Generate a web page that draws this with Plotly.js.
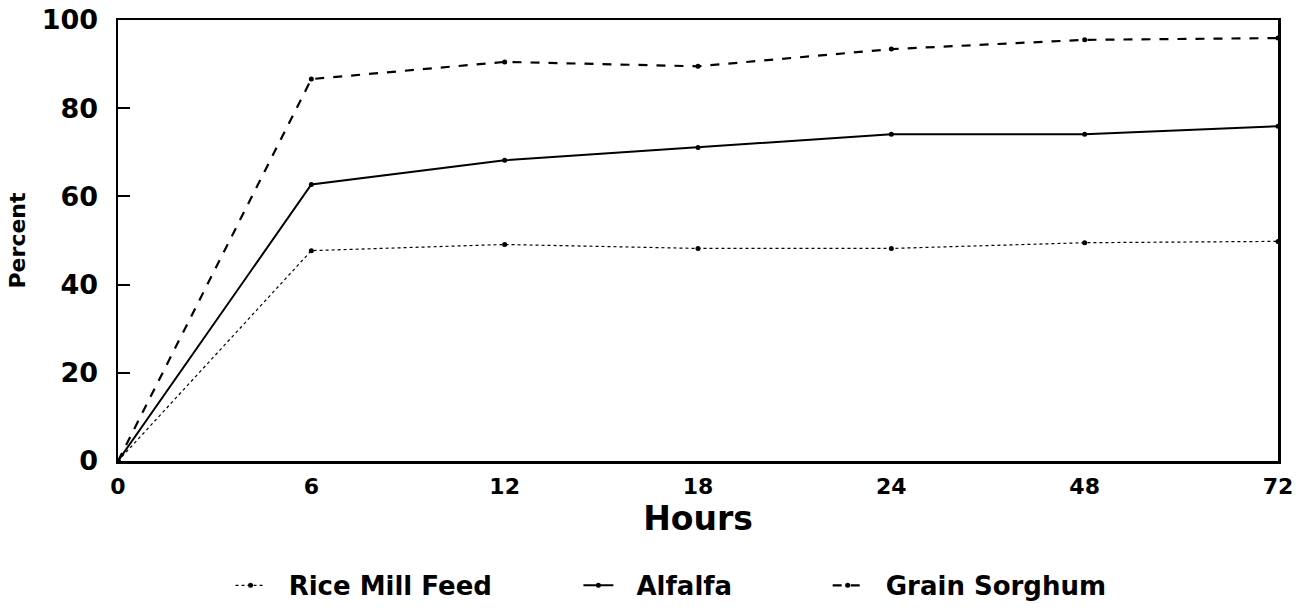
<!DOCTYPE html>
<html>
<head>
<meta charset="utf-8">
<script src="https://cdn.plot.ly/plotly-3.0.1.min.js"></script>
<style>html,body{margin:0;padding:0;background:#fff;}#chart{width:1304px;height:612px;}</style>
</head>
<body>
<div id="chart"></div>
<script>
const hours = ["0", "6", "12", "18", "24", "48", "72"];
const riceMillFeed = [0, 47.7, 49.1, 48.2, 48.2, 49.5, 49.8];
const alfalfa = [0, 62.7, 68.2, 71.1, 74.1, 74.1, 75.9];
const grainSorghum = [0, 86.6, 90.5, 89.5, 93.4, 95.5, 95.9];
const yTicks = [0, 20, 40, 60, 80, 100];
const seriesNames = ["Rice Mill Feed", "Alfalfa", "Grain Sorghum"];

const F = "DejaVu Sans, sans-serif";
const nb = n => "\u00a0".repeat(n);
const mk = {color: "#000", size: 5, symbol: "circle"};
const traces = [
  {x: hours, y: riceMillFeed, name: nb(2) + seriesNames[0] + nb(9), mode: "lines+markers",
   line: {color: "#000", width: 1.2, dash: "dot"}, marker: mk},
  {x: hours, y: alfalfa, name: nb(2) + seriesNames[1] + nb(10), mode: "lines+markers",
   line: {color: "#000", width: 2}, marker: mk},
  {x: hours, y: grainSorghum, name: nb(2) + seriesNames[2], mode: "lines+markers",
   line: {color: "#000", width: 2.2, dash: "dash"}, marker: mk}
];
const layout = {
  width: 1304, height: 612,
  margin: {l: 118, r: 26, t: 20, b: 151},
  paper_bgcolor: "#fff", plot_bgcolor: "#fff",
  showlegend: true,
  legend: {orientation: "h", xref: "container", yref: "container", x: 0.5146, y: 0.005,
           xanchor: "center", yanchor: "bottom",
           font: {family: F, size: 26, color: "#000", weight: "bold"}},
  xaxis: {type: "category", categoryorder: "array", categoryarray: hours, range: [0, 6],
          showgrid: false, zeroline: false, showline: true, mirror: true, linecolor: "#000", linewidth: 2.5,
          ticks: "", ticklabelstandoff: 4,
          tickfont: {family: F, size: 22, color: "#000", weight: "bold"},
          title: {text: "Hours", standoff: 9, font: {family: F, size: 33, color: "#000", weight: "bold"}}},
  yaxis: {range: [0, 100], tickvals: yTicks, showgrid: false, zeroline: false,
          showline: true, mirror: true, linecolor: "#000", linewidth: 2.5,
          ticks: "inside", ticklen: 12, tickwidth: 2, tickcolor: "#000", ticklabelstandoff: 12,
          tickfont: {family: F, size: 27, color: "#000", weight: "bold"},
          title: {text: "Percent", standoff: 10, font: {family: F, size: 22, color: "#000", weight: "bold"}}}
};
Plotly.newPlot("chart", traces, layout, {displayModeBar: false, staticPlot: true});
</script>
</body>
</html>
